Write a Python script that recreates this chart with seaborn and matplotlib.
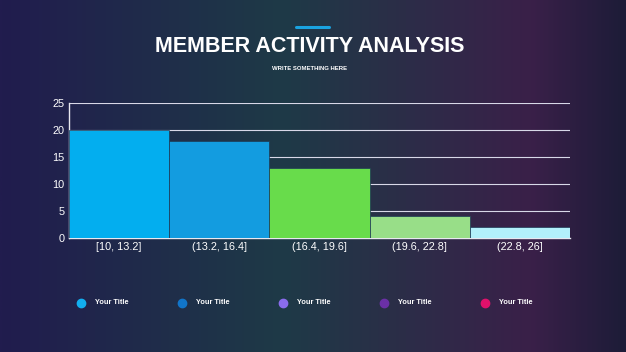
import numpy as np
import matplotlib.pyplot as plt
import seaborn as sns
import pandas as pd
from matplotlib.colors import LinearSegmentedColormap

bins = ["[10, 13.2]", "(13.2, 16.4]", "(16.4, 19.6]", "(19.6, 22.8]", "(22.8, 26]"]
counts = [20, 18, 13, 4, 2]
bar_colors = ["#03aeef", "#139ce0", "#68dc4b", "#98de88", "#b2f0fb"]

legend_labels = ["Your Title"] * 5
legend_colors = ["#12aff0", "#1175c9", "#8a6ced", "#6b30a6", "#e0116b"]

sns.set_theme(style="white")
plt.rcParams['font.family'] = ['Liberation Sans', 'DejaVu Sans']

fig = plt.figure(figsize=(6.26, 3.52), dpi=100)

# background gradient
bg = fig.add_axes([0, 0, 1, 1], zorder=-10)
cmap = LinearSegmentedColormap.from_list(
    "bg", [(0, "#211c4e"), (0.45, "#1e3a47"), (0.85, "#3a2049"), (1, "#1d1c38")])
bg.imshow(np.linspace(0, 1, 400).reshape(1, -1), aspect="auto", cmap=cmap,
          extent=[0, 1, 0, 1])
bg.axis("off")

ax = fig.add_axes([0.110, 0.324, 0.801, 0.383])
ax.set_facecolor("none")
df = pd.DataFrame({"bin": bins, "count": counts})
sns.barplot(data=df, x="bin", y="count", hue="bin", palette=bar_colors,
            saturation=1, width=1.0, legend=False, ax=ax,
            edgecolor="#1d3a55", linewidth=0.5, zorder=3)

ax.set_ylim(0, 25)
ax.set_xlim(-0.5, 4.5)
ax.set_yticks([0, 5, 10, 15, 20, 25])
ax.yaxis.grid(True, color="#d8d8e8", linewidth=0.8, zorder=0)
ax.set_xlabel("")
ax.set_ylabel("")
for s in ["top", "right"]:
    ax.spines[s].set_visible(False)
for s in ["left", "bottom"]:
    ax.spines[s].set_color("#e8e8f0")
    ax.spines[s].set_linewidth(1)
ax.tick_params(colors="white", labelsize=7.8, length=0, pad=3)
for lbl in ax.get_xticklabels() + ax.get_yticklabels():
    lbl.set_color("white")

# titles
fig.text(0.495, 0.868, "MEMBER ACTIVITY ANALYSIS", ha="center", va="center",
         color="white", fontsize=15.5, fontweight="bold")
fig.text(0.495, 0.806, "WRITE SOMETHING HERE", ha="center", va="center",
         color="white", fontsize=4.3, fontweight="bold")
fig.add_artist(plt.Line2D([0.473, 0.525], [0.923, 0.923], color="#1aa3e0",
                          linewidth=2.2, transform=fig.transFigure))

# legend row
for i, (lab, col) in enumerate(zip(legend_labels, legend_colors)):
    x = 81 + i * 101
    fig.add_artist(plt.Line2D([x / 626], [1 - 303 / 352], marker="o",
                              markersize=6, color=col, linestyle="none",
                              transform=fig.transFigure))
    fig.text((x + 14) / 626, 1 - 303 / 352, lab, ha="left", va="center",
             color="white", fontsize=5.3, fontweight="bold")

fig.savefig("out.png", dpi=100)
